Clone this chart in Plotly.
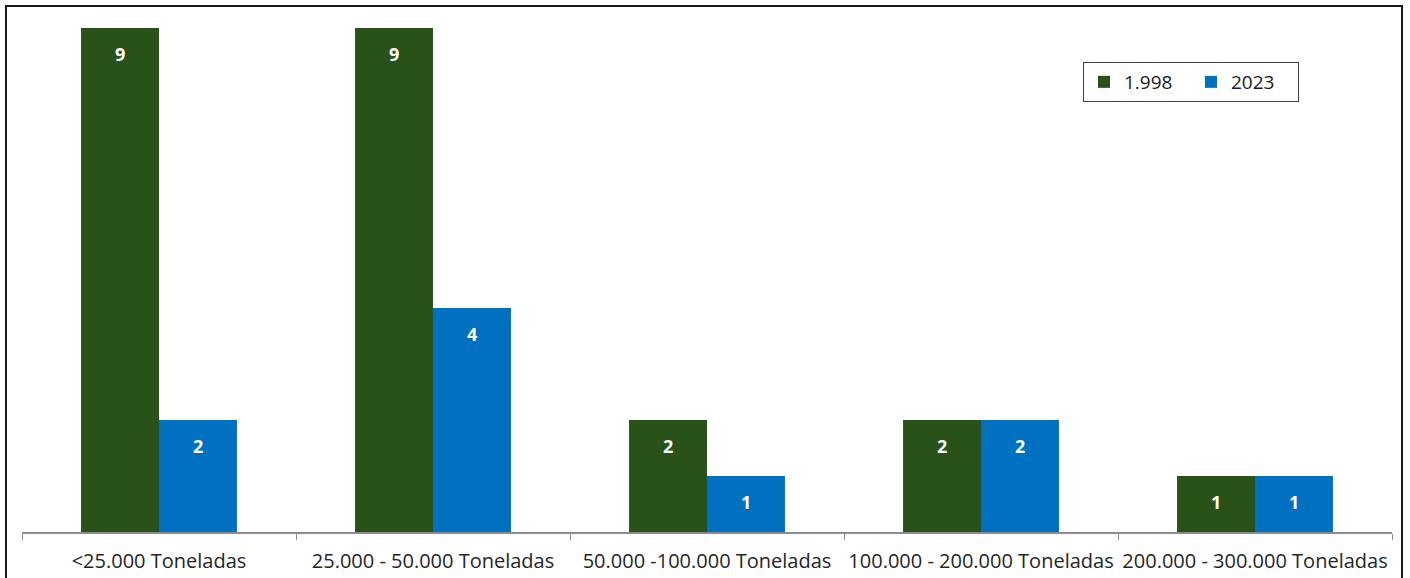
import plotly.graph_objects as go

categories = ["<25.000 Toneladas", "25.000 - 50.000 Toneladas", "50.000 -100.000 Toneladas",
              "100.000 - 200.000 Toneladas", "200.000 - 300.000 Toneladas"]
series_names = ["1.998", "2023"]
values_1998 = [9, 9, 2, 2, 1]
values_2023 = [2, 4, 1, 2, 1]

green = "#285218"
blue = "#0070C0"

W, H = 1410, 578
L, R, T, B = 22, 18, 28, 46
pw, ph = W - L - R, H - T - B

fig = go.Figure()
fig.add_trace(go.Bar(name=series_names[0], x=categories, y=values_1998, marker_color=green,
                     marker_line_width=0))
fig.add_trace(go.Bar(name=series_names[1], x=categories, y=values_2023, marker_color=blue,
                     marker_line_width=0))

bar_px = pw / len(categories) * (1 - 0.431) / 2
for vals, sgn in ((values_1998, -1), (values_2023, 1)):
    for c, v in zip(categories, vals):
        fig.add_annotation(x=c, y=v, xref="x", yref="y", text=f"<b>{v}</b>", showarrow=False,
                           xshift=sgn * bar_px / 2, yshift=-26,
                           font=dict(color="white", size=18, family="Open Sans"))

def px_x(p):
    return (p - L) / pw

def px_y(p):
    return (H - B - p) / ph

fig.add_shape(type="rect", xref="paper", yref="paper",
              x0=px_x(6), x1=px_x(1402), y0=px_y(600), y1=px_y(6),
              line=dict(color="#1a1a1a", width=2), fillcolor="rgba(0,0,0,0)")

fig.update_layout(
    width=W, height=H,
    margin=dict(l=L, r=R, t=T, b=B, autoexpand=False),
    barmode="group", bargap=0.431, bargroupgap=0,
    plot_bgcolor="white", paper_bgcolor="white",
    font=dict(family="Open Sans", color="#262626"),
    legend=dict(orientation="h", x=px_x(1083), y=px_y(62), xanchor="left", yanchor="top",
                bordercolor="#404040", borderwidth=1, font=dict(size=19, color="#1a1a1a"),
                bgcolor="white", entrywidth=62, itemwidth=30),
    xaxis=dict(showline=True, linecolor="#8c8c8c", linewidth=1.5, ticks="outside",
               tickson="boundaries", ticklen=6, tickcolor="#8c8c8c",
               tickfont=dict(size=20, color="#262626"), showgrid=False, tickangle=0,
               ticklabelstandoff=10, range=[-0.5, 4.5], automargin=False),
    yaxis=dict(visible=False, range=[0, 9], showgrid=False, automargin=False),
)

fig.write_html("out.html")
